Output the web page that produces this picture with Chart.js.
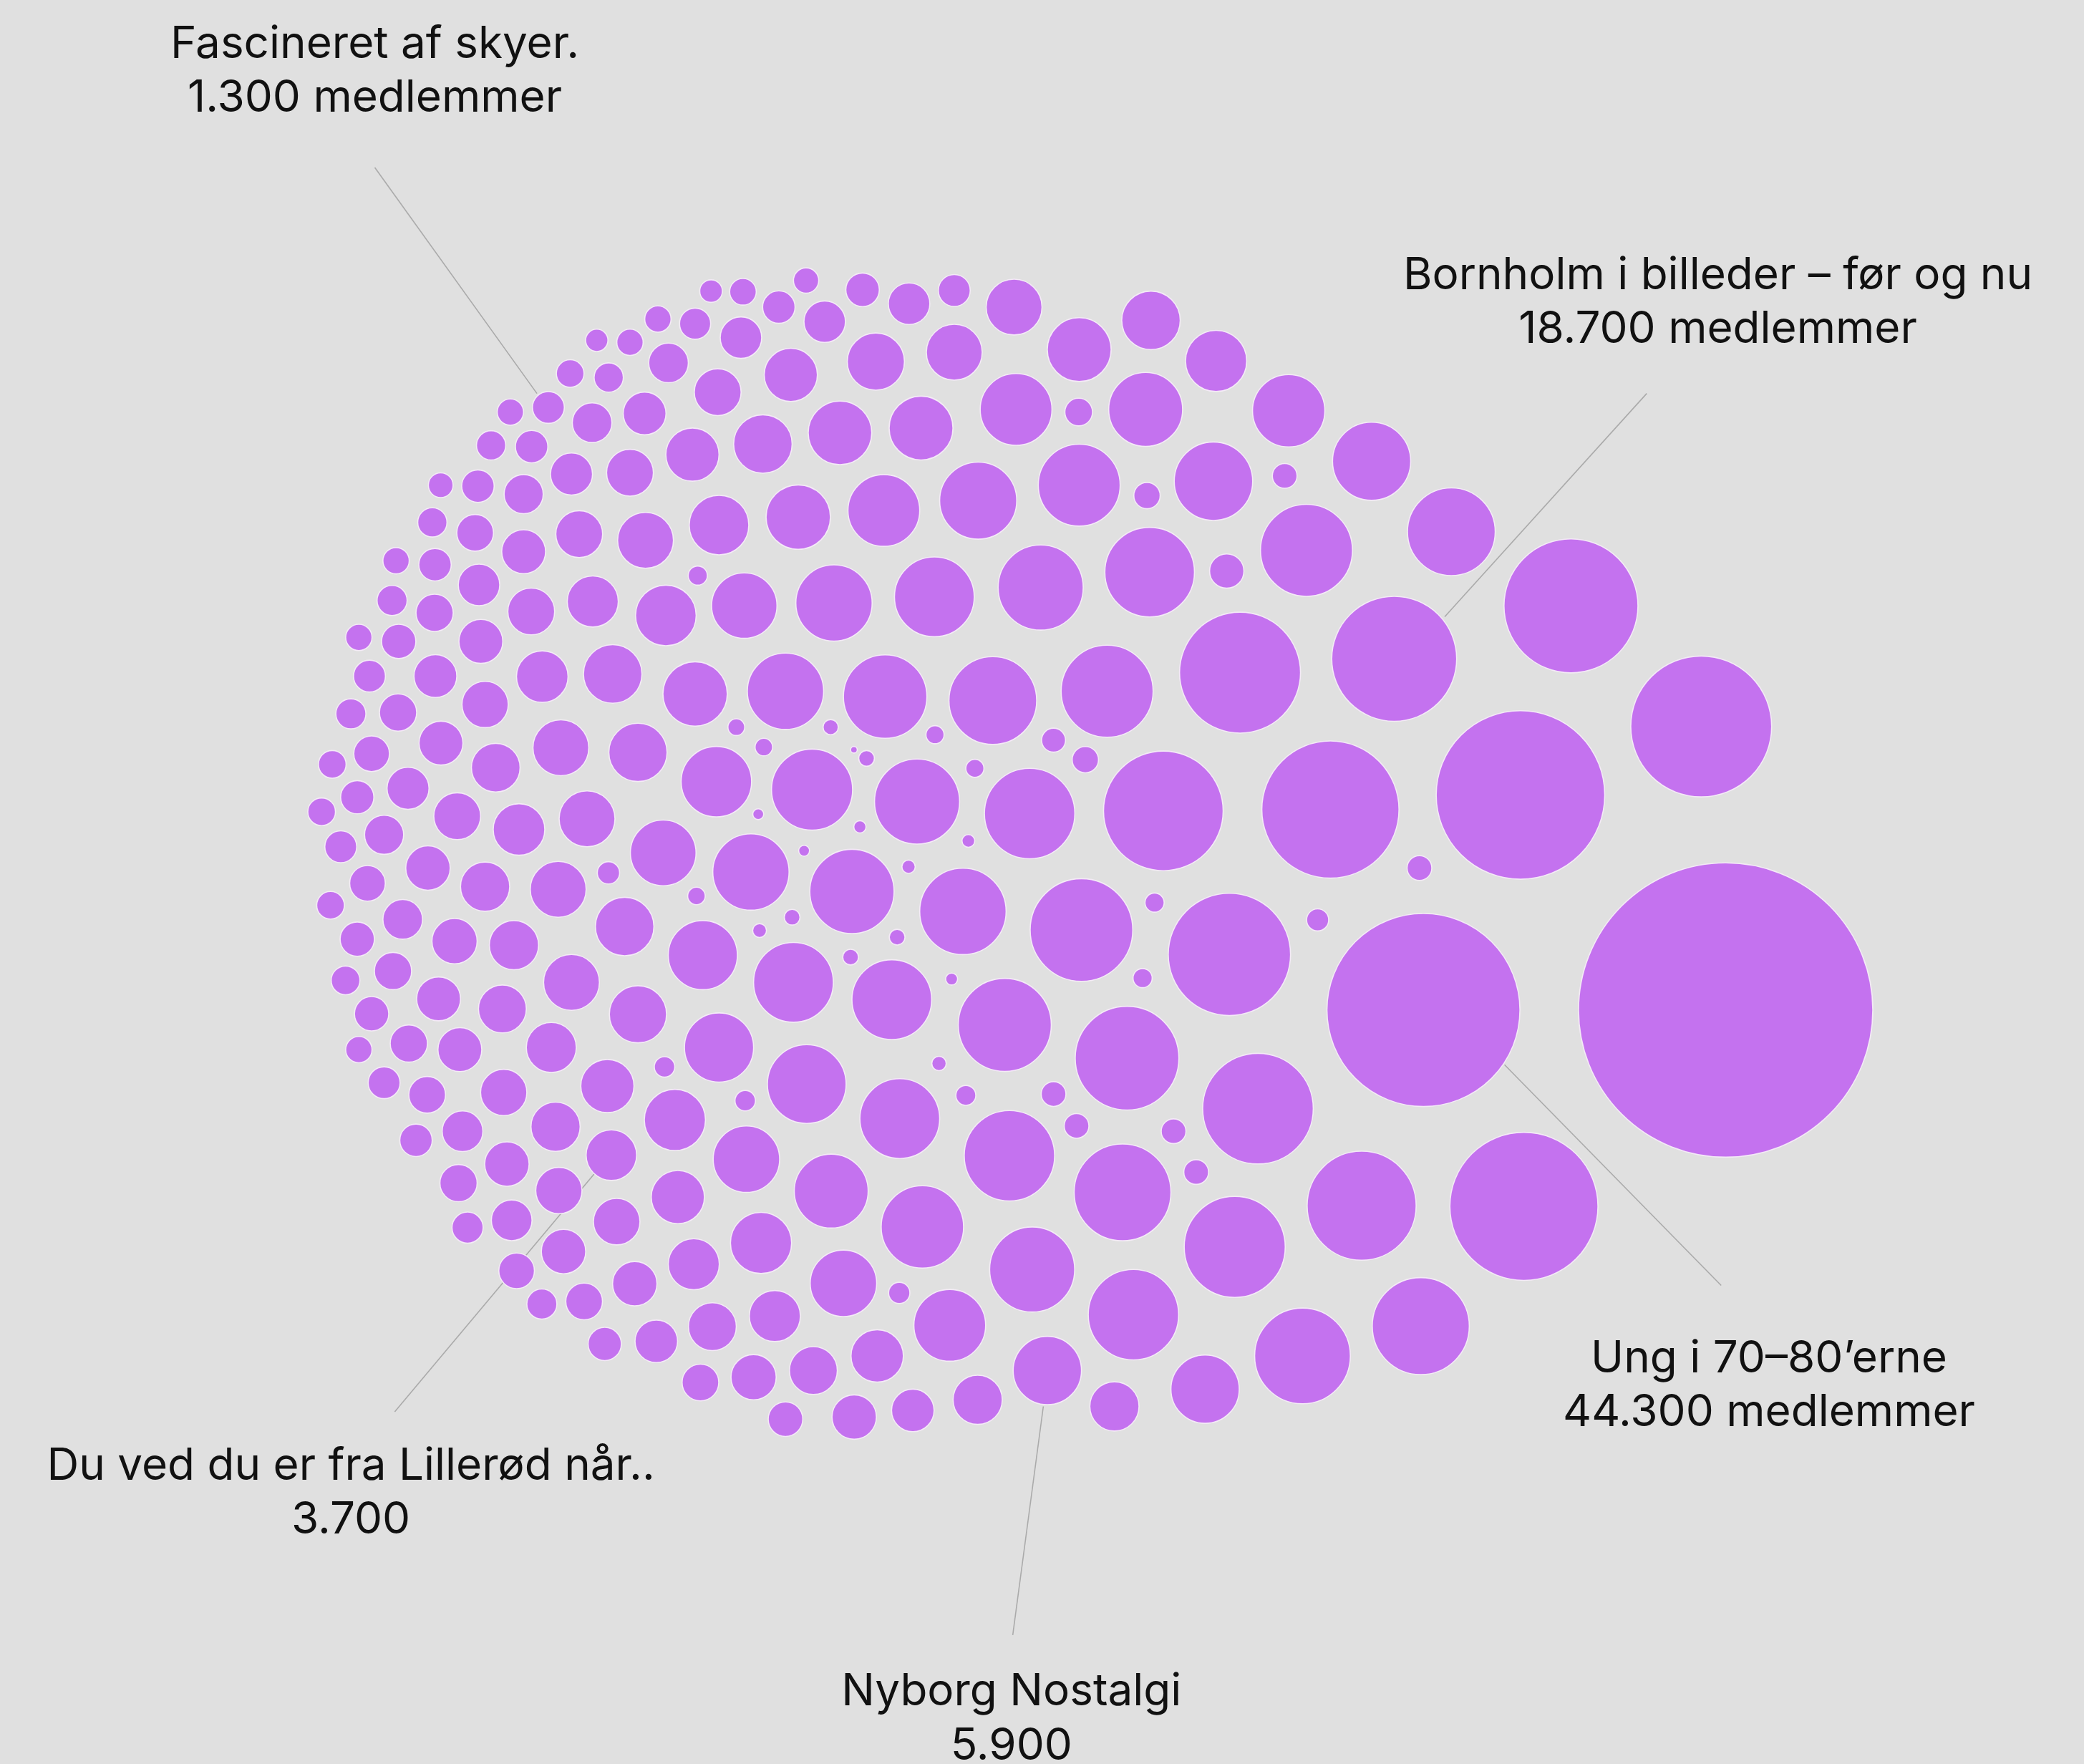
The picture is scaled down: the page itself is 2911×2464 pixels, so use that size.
<!DOCTYPE html>
<html><head><meta charset="utf-8">
<script src="https://cdn.jsdelivr.net/npm/chart.js@4.4.1/dist/chart.umd.min.js"></script>
<style>
html,body{margin:0;padding:0;background:#e0e0e0;}
#wrap{width:2911px;height:2464px;position:relative;}
</style></head><body>
<div id="wrap"><canvas id="c"></canvas></div>
<script>
// Bubble centres (chart units) and radii (chart units)
const bubbleX = [535,559,606.5,649,684,718,763,866,495,523,586,557.5,620.5,659,718,812,915,449,474,503,429,458,540,595,485,445.5,412.6,384,369.5,400,430,474,521,574,632,693,764.5,811.6,862,969.6,1032,966.6,913,863,812,736,665,600.6,541,485.7,435.8,394,359.6,331.6,325.3,357.5,394,1092,983,923,865,783,703,627.5,560,525,501,446,399.7,360.4,327.3,298,295,327,361.8,1182,1049,933,833,747,666,591,523,461,408,365,327.6,300,270,278,299.5,264,1280,1144,1001,875.3,774.7,690,611,539,480,422,373,331.8,279.6,250,307,268.8,242,344,390.5,441.7,289,256.4,322,276.5,365,420,457.8,499,565,641,724.5,813.7,925,1071,1298.4,248.7,303,342,386.7,470,528.8,597,671,756,848,946.5,268.8,295.7,260,330,378,430,480,541,607,677,759.5,844.6,929,1024.5,1146.6,279.6,307.6,270,346,414.8,289,321.4,379,457,507.8,561.6,625.4,694,776.6,852.8,980,1069,313,348,418,381.4,460,345,420.5,510,572.6,634.6,714.6,788,906.7,838.5,351.8,385,464,424,522,388.7,477.6,583,660,735.6,407.7,439.5,536,493.8,455,527,567,612,686.8,642.7,591,554,574.7,625,642.5,652,703.5,733.5,792.7,816.6,570.5,647,605,728.6,683.6,524,596,571.5,675,640,716,868.7,859.7,1068,991.4,500,560.7,706.5,726.7,792.7,810,883,900,676.6];
const bubbleY = [219,219.5,211,218,228.5,218.5,231,241,240,243.5,231,254,242,272,265,263,271.5,256,257.5,273,281,284,295,282,311,318,306.5,310,335,336,356.6,355.6,342,334,325.6,322,308,310,308,309,347,358,362,372.8,365,376.6,384,389,395,406.5,401.8,371.7,365.7,365,393,400.8,415,400,414,429.6,430.4,442,449,453.6,455.6,433,463,452.5,460,440,424.8,421.8,451.7,461,482.5,455.8,495.6,506,520,527,524,520,522,507,509,530,508.6,482.5,479.5,508.6,536,537,546.5,598,609,610,612,603,594,588,566,562.5,577.5,559,567,575,593,599.7,610.7,614,624,616,628,637,653,664.5,667,669,656.6,641.6,656,670.6,685.6,699.6,718,759.8,759.8,681,691.6,708,711,697,718.5,739,752,771,796,834,706.5,730.5,737.5,751.4,759,739,763,788,815.5,841.5,869.4,897,938,907,907.5,762.6,785,789.6,789.6,788,814.5,823.6,821.8,817,842.5,872,896,923,955,989,1020,997.6,857.8,851,847.6,875.7,869,890,895.6,900.5,935,965.4,997,1031,1045,1058,923.5,918,919,941.5,951,956,965.7,990,1020,1053,981,979,998,1009,1011,1040,1036,1031,1061,1066,1067.6,547,562,547,564,570.5,552.7,578,556.8,571.5,612.5,622,640,632.6,652,674,690,700,705,720,736.5,679,735.8,653,692,802.6,828,800,824,823,847,851,881.7,972.6];
const bubbleSize = [8.5,10,9.5,12.6,15.6,12,21,22,9.9,11.7,12.2,15.6,15.6,21.5,21,24,23,8.4,9.9,14.9,10.4,11,17.6,20,16.1,14.9,12,9.9,11,12.2,15.8,17.6,20,22,23.9,24,27,10.4,27.8,27.2,29.4,9.3,29.5,9.9,30.8,29,27,24.2,22.4,21,17.6,14.7,12.2,9.3,11,13.8,16.5,33,34.6,12.9,33.7,32,30,28.7,24.6,7.2,22.8,19.2,17.6,15.6,12.2,9.9,11.3,14,16.5,50.4,47,45.5,34.6,33,31.4,28.7,24.2,22,19.4,17.4,16.1,12.9,9.9,12,14,11.3,53,63.4,51.6,45,34,32,30.5,26.5,21.9,21,18.3,16.5,13.4,10.4,15.8,12.5,10.4,17.6,19.4,21,14.7,12,16.7,13.4,18.5,21,8.4,24.7,28.7,31.7,32.5,38.6,46,72.6,110.7,10.4,14.9,17,18.5,22,26,30,30,35,39,41.6,12.9,14,10.8,16.5,18,21,21.5,26,29.6,30,34,36.4,38,41,55.7,12.9,14,9.9,16.5,18.8,12,13.8,17.4,20,23,25,27.8,31,32,34,36,36.5,12.2,15.3,18.5,16.7,19,14,17.4,20,23,25,27,25.7,25.7,18.5,11.7,15.3,17.5,16.7,19.2,13.4,16.7,19.2,19.7,18.5,11.3,13.8,18,16,12.5,13.8,17,18,16,16.7,13,6.3,6.6,5.7,2.5,5.9,6.8,6.8,9,9.9,4.1,4.6,4.1,4.8,5,6.6,5.9,5.2,5.9,5.9,4.5,7.2,7.2,9.3,8.3,7.7,7.7,5.4,7.5,9.3,9.3,9.3,9.3,8];

// Annotations
const labelLines = [
  ["Fascineret af skyer.", "1.300 medlemmer"],
  ["Bornholm i billeder \u2013 f\u00f8r og nu", "18.700 medlemmer"],
  ["Ung i 70\u201380\u2019erne", "44.300 medlemmer"],
  ["Du ved du er fra Lillerød når..", "3.700"],
  ["Nyborg Nostalgi", "5.900"]
];
const labelAnchors = [[282, 43.6], [1292.5, 217.5], [1331, 1032.5], [264, 1113], [761, 1283]];
const leaderLines = [[282,126,404,296],[1239,296,1087,464],[1295,967,1132,801],[297,1062,448,882],[762,1230,785,1058]];

const annot = {
  id: 'annot',
  beforeDraw(chart) {
    const c = chart.ctx;
    c.save(); c.fillStyle = '#e0e0e0'; c.fillRect(0, 0, chart.width, chart.height); c.restore();
  },
  beforeDatasetsDraw(chart) {
    const c = chart.ctx, sx = chart.scales.x, sy = chart.scales.y;
    c.save();
    c.strokeStyle = '#aaaaaa'; c.lineWidth = 1.6;
    leaderLines.forEach(l => {
      c.beginPath();
      c.moveTo(sx.getPixelForValue(l[0]), sy.getPixelForValue(l[1]));
      c.lineTo(sx.getPixelForValue(l[2]), sy.getPixelForValue(l[3]));
      c.stroke();
    });
    c.restore();
  },
  afterDraw(chart) {
    const c = chart.ctx, sx = chart.scales.x, sy = chart.scales.y;
    c.save();
    c.fillStyle = '#111111';
    c.font = '400 62px Inter, "DejaVu Sans", sans-serif';
    c.textAlign = 'center'; c.textBaseline = 'alphabetic';
    labelLines.forEach((lines, i) => {
      const a = labelAnchors[i];
      lines.forEach((t, j) => {
        c.fillText(t, sx.getPixelForValue(a[0]), sy.getPixelForValue(a[1] + j * 40.5));
      });
    });
    c.restore();
  }
};

const chart = new Chart(document.getElementById('c'), {
  type: 'bubble',
  data: { datasets: [{
    data: bubbleX.map((x, i) => ({x: x, y: bubbleY[i], r: 0})),
    backgroundColor: '#c472ef',
    borderColor: 'rgba(246,236,248,0.95)',
    borderWidth: 1.6
  }]},
  options: {
    responsive: true, maintainAspectRatio: false, animation: false,
    events: [],
    layout: { padding: 0, autoPadding: false },
    scales: {
      x: { type: 'linear', min: 0, max: 1568, display: false },
      y: { type: 'linear', min: 0, max: 1327, reverse: true, display: false }
    },
    plugins: { legend: { display: false }, tooltip: { enabled: false } }
  },
  plugins: [annot]
});

// Convert radii from chart units to pixels through the x scale, then redraw
const sx = chart.scales.x;
const pxPerUnit = Math.abs(sx.getPixelForValue(1) - sx.getPixelForValue(0));
chart.data.datasets[0].data = bubbleX.map((x, i) => ({x: x, y: bubbleY[i], r: bubbleSize[i] * pxPerUnit}));
chart.update('none');
</script>
</body></html>
